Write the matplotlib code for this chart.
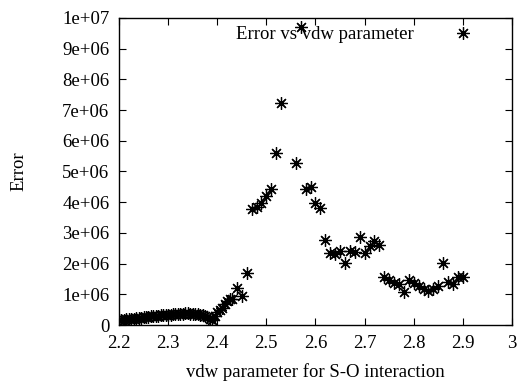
import matplotlib
matplotlib.use("Agg")
import matplotlib.pyplot as plt

# vdw parameter values and corresponding error (in units of 1e6)
vdw = [2.200, 2.205, 2.210, 2.215, 2.220, 2.225, 2.230, 2.235, 2.240, 2.245,
       2.250, 2.255, 2.260, 2.265, 2.270, 2.275, 2.280, 2.285, 2.290, 2.295,
       2.300, 2.305, 2.310, 2.315, 2.320, 2.325, 2.330, 2.335, 2.340, 2.345,
       2.350, 2.355, 2.360, 2.365, 2.370, 2.375, 2.380, 2.385, 2.390, 2.395,
       2.400, 2.405, 2.410, 2.415, 2.420, 2.425, 2.430, 2.440, 2.450, 2.460,
       2.470, 2.480, 2.490, 2.500, 2.510, 2.520, 2.530, 2.560, 2.570, 2.580,
       2.590, 2.600, 2.610, 2.620, 2.630, 2.640, 2.650, 2.660, 2.670, 2.680,
       2.690, 2.700, 2.710, 2.720, 2.730, 2.740, 2.750, 2.760, 2.770, 2.780,
       2.790, 2.800, 2.810, 2.820, 2.830, 2.840, 2.850, 2.860, 2.870, 2.880,
       2.890, 2.900]
error_m = [0.15, 0.17, 0.16, 0.18, 0.19, 0.20, 0.21, 0.22, 0.23, 0.24,
           0.25, 0.26, 0.27, 0.28, 0.29, 0.30, 0.30, 0.31, 0.32, 0.33,
           0.33, 0.34, 0.35, 0.35, 0.36, 0.37, 0.37, 0.38, 0.38, 0.37,
           0.36, 0.37, 0.36, 0.34, 0.32, 0.28, 0.25, 0.20, 0.17, 0.28,
           0.42, 0.48, 0.55, 0.70, 0.78, 0.85, 0.85, 1.20, 0.95, 1.69,
           3.78, 3.84, 3.97, 4.20, 4.43, 5.60, 7.23, 5.28, 9.72, 4.43,
           4.50, 3.97, 3.80, 2.77, 2.35, 2.32, 2.40, 2.02, 2.40, 2.37,
           2.87, 2.35, 2.57, 2.74, 2.60, 1.56, 1.47, 1.37, 1.35, 1.08,
           1.48, 1.37, 1.27, 1.17, 1.10, 1.17, 1.27, 2.02, 1.40, 1.33,
           1.56, 1.56]
error = [v * 1e6 for v in error_m]

x_ticks = [2.2, 2.3, 2.4, 2.5, 2.6, 2.7, 2.8, 2.9, 3.0]
x_tick_labels = ["2.2", "2.3", "2.4", "2.5", "2.6", "2.7", "2.8", "2.9", "3"]
y_ticks = [0, 1e6, 2e6, 3e6, 4e6, 5e6, 6e6, 7e6, 8e6, 9e6, 1e7]
y_tick_labels = ["0", "1e+06", "2e+06", "3e+06", "4e+06", "5e+06",
                 "6e+06", "7e+06", "8e+06", "9e+06", "1e+07"]

FS = 13.5
plt.rcParams["font.family"] = ["Liberation Serif", "DejaVu Serif"]
plt.rcParams["font.size"] = FS

fig = plt.figure(figsize=(5.2, 3.85), dpi=100)
ax = fig.add_axes([119 / 520, 1 - 325 / 385, (512 - 119) / 520, (325 - 18) / 385])

ax.plot(vdw, error, linestyle="none", marker=(8, 2, 0), markersize=9,
        markeredgewidth=0.9, color="black", label="Error vs vdw parameter")

ax.set_xlim(2.2, 3.0)
ax.set_ylim(0, 1e7)
ax.set_xticks(x_ticks)
ax.set_xticklabels(x_tick_labels)
ax.set_yticks(y_ticks)
ax.set_yticklabels(y_tick_labels)
ax.tick_params(direction="in", length=5, width=0.8, top=True, right=True,
               labelsize=FS, pad=7)
for s in ax.spines.values():
    s.set_linewidth(1.0)

ax.set_xlabel("vdw parameter for S-O interaction", fontsize=FS, labelpad=8)
ax.set_ylabel("Error", fontsize=FS, labelpad=25)

ax.legend(loc="upper right", bbox_to_anchor=(0.929, 0.998), frameon=False,
          markerfirst=False, fontsize=FS, handlelength=1.5,
          handletextpad=1.85, borderaxespad=0.0)

fig.savefig("out.png", dpi=100)
